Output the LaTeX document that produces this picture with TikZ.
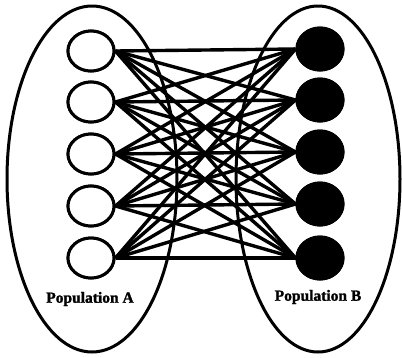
\documentclass[tikz,border=0pt]{standalone}
\usepackage{fontspec}
\setmainfont{Liberation Serif}
\newfontfamily\heavyfont{Liberation Serif}[BoldFeatures={FakeBold=1.5}]
\usetikzlibrary{shapes.geometric}
\begin{document}
\begin{tikzpicture}[x=1pt,y=-1pt,
  pop/.style={draw=black,line width=3pt,ellipse,minimum width=170pt,minimum height=346pt,inner sep=0pt},
  popr/.style={draw=black,line width=3pt,ellipse,minimum width=164pt,minimum height=346pt,inner sep=0pt},
  neuronA/.style={draw=black,fill=white,line width=3pt,ellipse,minimum width=46pt,minimum height=40pt,inner sep=0pt},
  neuronB/.style={draw=black,fill=black,line width=1pt,ellipse,minimum width=48pt,minimum height=44pt,inner sep=0pt},
  link/.style={line width=3.4pt,black},
  lab/.style={font=\heavyfont\bfseries\fontsize{15.5}{17}\selectfont,inner sep=0pt}]
\fill[white] (0,0) rectangle (402,357);
\useasboundingbox (0,0) rectangle (402,357);
\node[pop] (PA) at (92,179) {};
\node[popr] (PB) at (318,179) {};
\foreach \i/\y in {1/51,2/102,3/154,4/206,5/258}{
  \node[neuronA] (L\i) at (91,\y) {};
}
\foreach \i/\y in {1/49,2/100,3/152,4/204,5/258}{
  \node[neuronB] (R\i) at (320,\y) {};
}
\foreach \i in {1,...,5}{
  \foreach \j in {1,...,5}{
    \draw[link] (L\i.east) -- (R\j.west);
  }
}
\foreach \i in {1,...,5}{
  \node[neuronA] at (L\i) {};
  \node[neuronB] at (R\i) {};
}
\node[lab] (TA) at (90,299) {Population A};
\node[lab] (TB) at (318,297) {Population B};
\end{tikzpicture}
\end{document}
